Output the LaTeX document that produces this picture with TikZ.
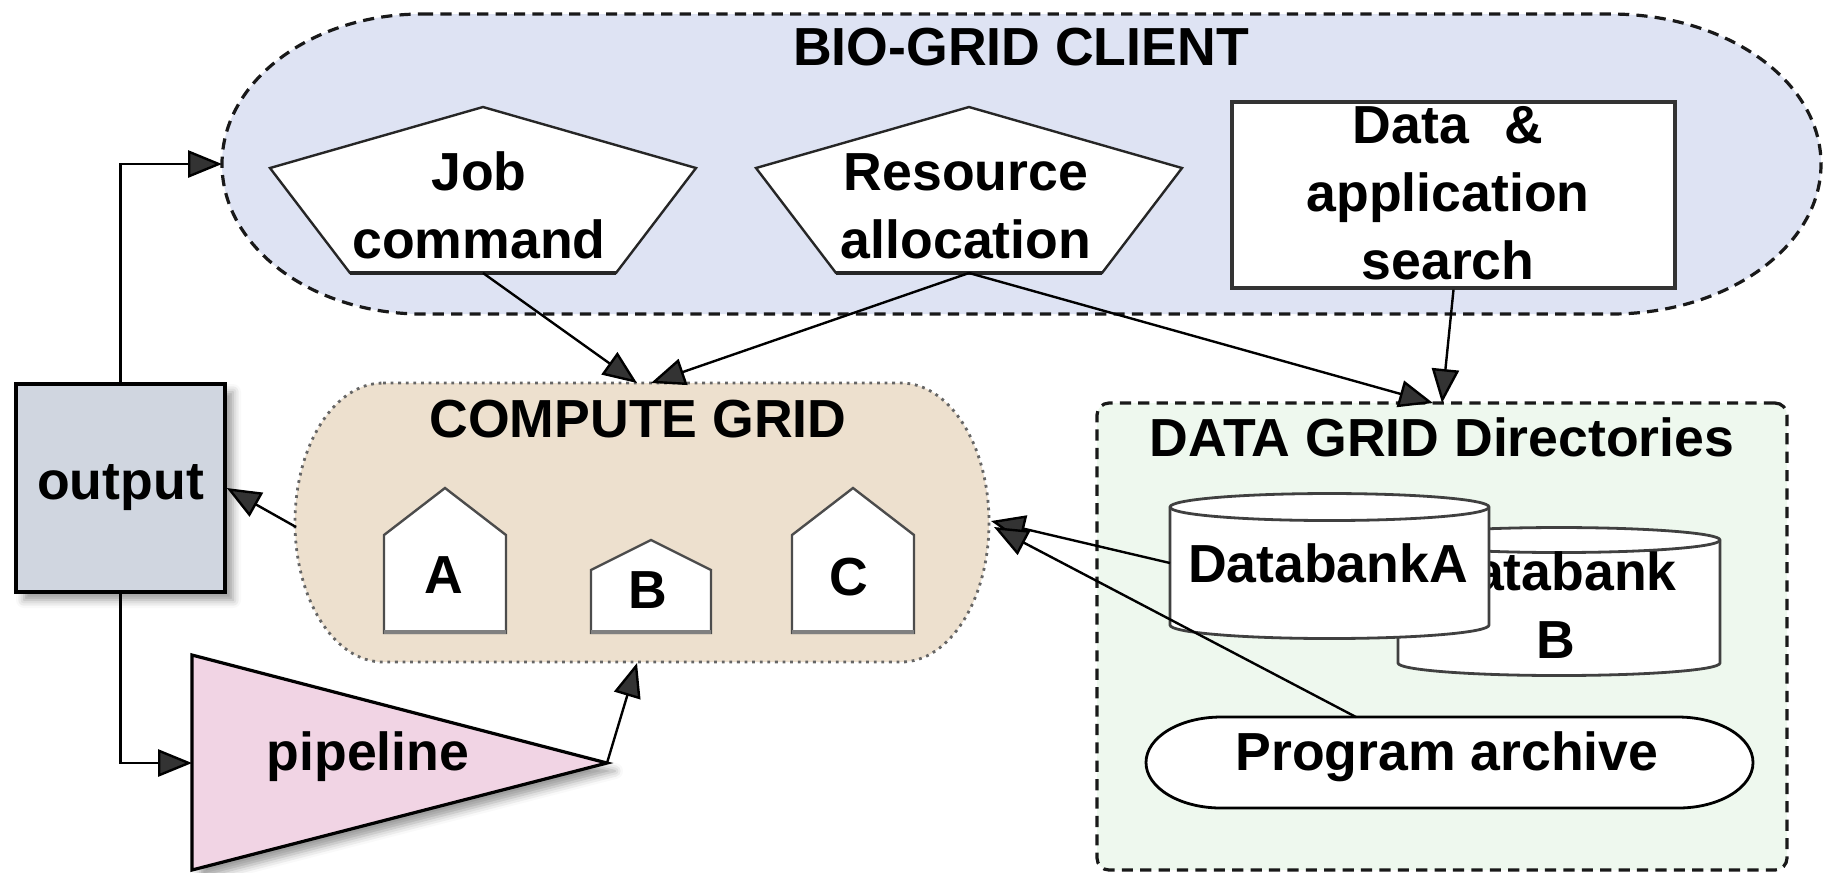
\documentclass[tikz,border=0pt]{standalone}
\usepackage{fontspec}
\setmainfont{Liberation Sans}
\usetikzlibrary{arrows.meta,shadows.blur}
\definecolor{bioFill}{HTML}{DEE3F3}
\definecolor{cgFill}{HTML}{EDE0CE}
\definecolor{dgFill}{HTML}{EEF8EE}
\definecolor{outFill}{HTML}{D0D6E0}
\definecolor{pipeFill}{HTML}{F1D4E4}
\begin{document}
\begin{tikzpicture}[x=0.25pt,y=-0.25pt,
  font=\bfseries\fontsize{13.4}{17}\selectfont,
  txt/.style={anchor=base, inner sep=0pt},
  mtxt/.style={anchor=base, inner sep=0pt, align=center, text width=120pt},
  conn/.style={line width=0.6pt, -{Triangle[length=8.5pt,width=6.8pt]}},
  pent/.style={draw=black!85, line width=0.6pt, fill=white},
  pentbase/.style={draw=black!85, line width=1pt},
  house/.style={draw=black!70, line width=0.6pt, fill=white},
  houseshadow/.style={draw=black!50, line width=1.2pt},
  cyl/.style={draw=black!75, line width=0.7pt, fill=white},
  dashedborder/.style={draw=black!90, line width=0.8pt, dash pattern=on 2.8pt off 1.8pt},
]
\useasboundingbox (0,0) rectangle (1829,872);

% ---------- BIO-GRID CLIENT ----------
\path[dashedborder, fill=bioFill]
  (422,14) -- (1611,14)
  arc[start angle=270,end angle=450,x radius=210,y radius=150]
  -- (422,314)
  arc[start angle=90,end angle=270,x radius=200,y radius=150] -- cycle;
\coordinate (bioW) at (222,164);
\node[txt] (bioT) at (1021,65) {BIO-GRID CLIENT};

% Job command pentagon
\path[pent] (483,107) -- (696,168) -- (616,273) -- (350,273) -- (270,168) -- cycle;
\draw[pentbase] (350,273) -- (616,273);
\coordinate (jobB) at (483,273);
\node[mtxt] (job) at (479,190) {Job\\command};

% Resource allocation pentagon
\path[pent] (969,107) -- (1182,168) -- (1102,273) -- (836,273) -- (756,168) -- cycle;
\draw[pentbase] (836,273) -- (1102,273);
\coordinate (resB) at (969,273);
\node[mtxt] (res) at (966,190) {Resource\\allocation};

% Data & application search
\node[draw=black!80, line width=0.8pt, fill=white, minimum width=110.75pt,
      minimum height=46.5pt, inner sep=0pt] (ds) at (1453.5,195) {};
\node[mtxt] (dsT) at (1448,143) {Data\ \ \&\\application\\search};

% ---------- COMPUTE GRID ----------
\path[draw=black!60, fill=cgFill, line width=0.7pt, dash pattern=on 0.7pt off 1.2pt]
  (383,383) -- (901,383)
  arc[start angle=270,end angle=450,x radius=88,y radius=139.5]
  -- (383,662)
  arc[start angle=90,end angle=270,x radius=88,y radius=139.5] -- cycle;
\node[txt] (cgT) at (638,437) {COMPUTE GRID};
\coordinate (cgN1) at (637,383);
\coordinate (cgN2) at (651,383);
\coordinate (cgS) at (637,663);
\coordinate (cgW) at (296,527);
\coordinate (cgE1) at (991,521);
\coordinate (cgE2) at (994,527);

% houses
\path[house] (384,633) -- (384,535) -- (445,488) -- (506,535) -- (506,633) -- cycle;
\draw[houseshadow] (384,632) -- (506,632);
\node[txt] (hA) at (444,593) {A};
\path[house] (591,633) -- (591,570) -- (651,540) -- (711,570) -- (711,633) -- cycle;
\draw[houseshadow] (591,632) -- (711,632);
\node[txt] (hB) at (648,608) {B};
\path[house] (792,633) -- (792,535) -- (853,488) -- (914,535) -- (914,633) -- cycle;
\draw[houseshadow] (792,632) -- (914,632);
\node[txt] (hC) at (849,595) {C};

% ---------- output ----------
\node[draw=black, line width=0.9pt, fill=outFill, minimum width=52.25pt,
      minimum height=52pt, inner sep=0pt,
      blur shadow={shadow xshift=2pt, shadow yshift=-2pt, shadow blur radius=2pt}]
      (out) at (120.5,488) {output};

% ---------- pipeline ----------
\path[draw=black, line width=0.8pt, fill=pipeFill,
      blur shadow={shadow xshift=2pt, shadow yshift=-2pt, shadow blur radius=2pt}]
  (192,655) -- (607,763) -- (192,870) -- cycle;
\coordinate (pipeW) at (192,763);
\coordinate (pipeE) at (607,763);
\node[txt] (pipeT) at (368,770) {pipeline};

% ---------- DATA GRID ----------
\node[dashedborder, rounded corners=3pt, fill=dgFill, minimum width=172.5pt,
      minimum height=116.75pt, inner sep=0pt] (dg) at (1442,636.5) {};
\node[txt] (dgT) at (1442,456) {DATA GRID Directories};
\coordinate (dgN1) at (1433,403);
\coordinate (dgN2) at (1442,403);

% Databank B
\path[cyl] (1398,540) -- (1398,663)
  arc[start angle=180,end angle=0,x radius=161,y radius=12.5]
  -- (1720,540)
  arc[start angle=0,end angle=-180,x radius=161,y radius=12.5] -- cycle;
\draw[cyl, fill=none] (1398,540) arc[start angle=180,end angle=0,x radius=161,y radius=12.5];
\node[mtxt] (dbB) at (1556,590) {Databank\\B};

% Databank A
\path[cyl] (1170,507) -- (1170,625)
  arc[start angle=180,end angle=0,x radius=159.5,y radius=13.5]
  -- (1489,507)
  arc[start angle=0,end angle=-180,x radius=159.5,y radius=13.5] -- cycle;
\draw[cyl, fill=none] (1170,507) arc[start angle=180,end angle=0,x radius=159.5,y radius=13.5];
\node[txt] (dbA) at (1328,582) {DatabankA};
\coordinate (dbAW) at (1170,563);

% Program archive
\path[draw=black, line width=0.7pt, fill=white]
  (1221,717) -- (1678,717)
  arc[start angle=270,end angle=450,x radius=75,y radius=45.5]
  -- (1221,808)
  arc[start angle=90,end angle=270,x radius=75,y radius=45.5] -- cycle;
\node[txt] (pa) at (1447,770) {Program archive};
\coordinate (paN) at (1356,717);

% ---------- connectors ----------
\draw[conn] (out.north) |- (bioW);
\draw[conn] (out.south) |- (pipeW);
\draw[conn] (cgW) -- (out.east);
\draw[conn] (jobB) -- (cgN1);
\draw[conn] (resB) -- (cgN2);
\draw[conn] (resB) -- (dgN1);
\draw[conn] (ds.south) -- (dgN2);
\draw[conn] (pipeE) -- (cgS);
\draw[conn] (dbAW) -- (cgE1);
\draw[conn] (paN) -- (cgE2);
\end{tikzpicture}
\end{document}
